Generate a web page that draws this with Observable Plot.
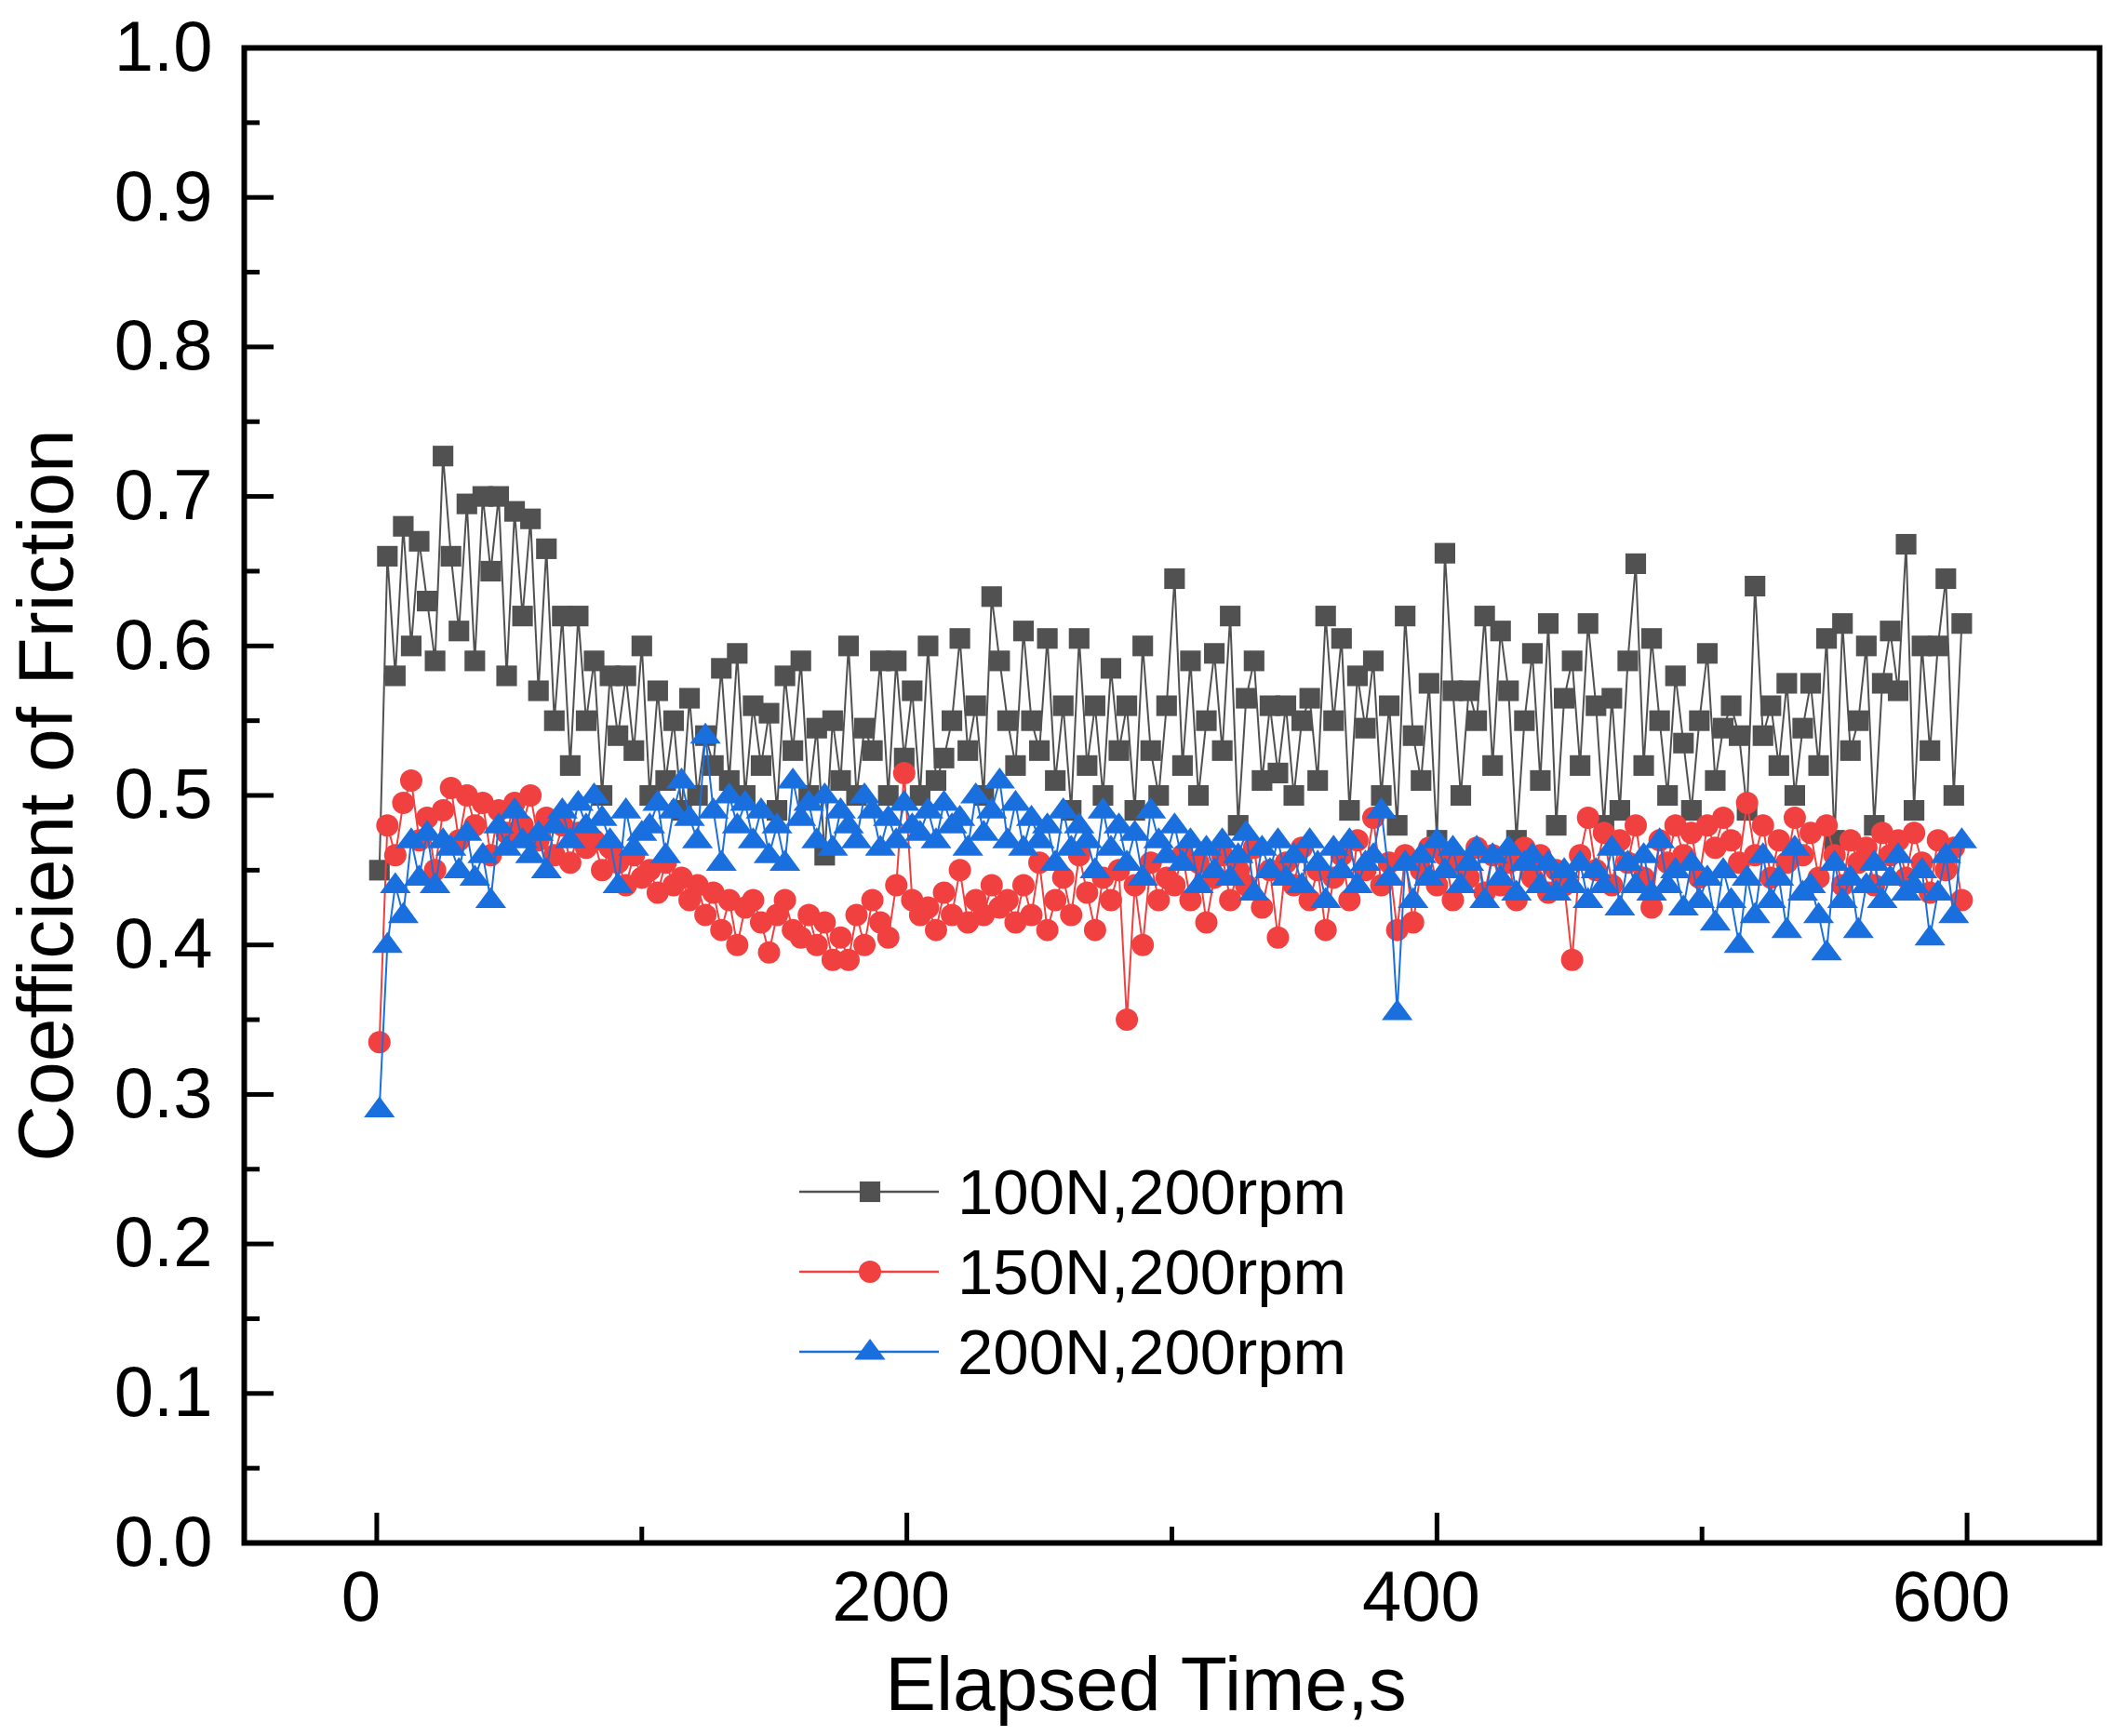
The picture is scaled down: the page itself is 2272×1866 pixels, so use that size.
<!DOCTYPE html>
<html>
<head>
<meta charset="utf-8">
<script src="https://cdn.jsdelivr.net/npm/d3@7"></script>
<script src="https://cdn.jsdelivr.net/npm/@observablehq/plot@0.6"></script>
<style>
  body { margin: 0; background: #fff; }
  #chart { position: relative; width: 2272px; height: 1866px; font-family: Arial, "Liberation Sans", sans-serif; }
  #legend { position: absolute; left: 859px; top: 1238px; }
  .row { display: flex; align-items: center; height: 86px; font-size: 69px; color: #000; }
  .row span { margin-left: 20px; }
</style>
</head>
<body>
<div id="chart"><div id="legend"></div></div>
<script>
/* Datos */
const seriesNames = ["100N,200rpm", "150N,200rpm", "200N,200rpm"]
const seriesColors = ["#515151", "#f04040", "#1a6fdf"]

// muestreo cada 3 s
const time = d3.range(1, 600, 3)

const cof100 = [
  0.45, 0.66, 0.58, 0.68, 0.60, 0.67, 0.63, 0.59, 0.727, 0.66,
  0.61, 0.695, 0.59, 0.70, 0.65, 0.70, 0.58, 0.69, 0.62, 0.685,
  0.57, 0.665, 0.55, 0.62, 0.52, 0.62, 0.55, 0.59, 0.50, 0.58,
  0.54, 0.58, 0.53, 0.60, 0.50, 0.57, 0.51, 0.55, 0.49, 0.565,
  0.50, 0.54, 0.52, 0.585, 0.51, 0.595, 0.50, 0.56, 0.52, 0.555,
  0.49, 0.58, 0.53, 0.59, 0.50, 0.545, 0.46, 0.55, 0.51, 0.60,
  0.50, 0.545, 0.53, 0.59, 0.50, 0.59, 0.525, 0.57, 0.50, 0.60,
  0.51, 0.525, 0.55, 0.605, 0.53, 0.56, 0.50, 0.633, 0.59, 0.55,
  0.52, 0.61, 0.55, 0.53, 0.605, 0.51, 0.56, 0.49, 0.605, 0.52,
  0.56, 0.50, 0.585, 0.53, 0.56, 0.49, 0.60, 0.53, 0.50, 0.56,
  0.645, 0.52, 0.59, 0.50, 0.55, 0.595, 0.53, 0.62, 0.48, 0.565,
  0.59, 0.51, 0.56, 0.515, 0.56, 0.50, 0.55, 0.565, 0.51, 0.62,
  0.55, 0.605, 0.49, 0.58, 0.545, 0.59, 0.50, 0.56, 0.48, 0.62,
  0.54, 0.51, 0.575, 0.47, 0.662, 0.57, 0.50, 0.57, 0.55, 0.62,
  0.52, 0.61, 0.57, 0.47, 0.55, 0.595, 0.51, 0.615, 0.48, 0.565,
  0.59, 0.52, 0.615, 0.56, 0.48, 0.565, 0.49, 0.59, 0.655, 0.52,
  0.605, 0.55, 0.50, 0.58, 0.535, 0.49, 0.55, 0.595, 0.51, 0.545,
  0.56, 0.54, 0.49, 0.64, 0.54, 0.56, 0.52, 0.575, 0.50, 0.545,
  0.575, 0.52, 0.605, 0.47, 0.615, 0.53, 0.55, 0.60, 0.48, 0.575,
  0.61, 0.57, 0.668, 0.49, 0.60, 0.53, 0.60, 0.645, 0.50, 0.615
]

const cof150 = [
  0.335, 0.48, 0.46, 0.495, 0.51, 0.47, 0.485, 0.45, 0.49, 0.505,
  0.47, 0.50, 0.48, 0.495, 0.46, 0.49, 0.475, 0.495, 0.48, 0.50,
  0.47, 0.485, 0.46, 0.48, 0.455, 0.475, 0.465, 0.47, 0.45, 0.465,
  0.455, 0.44, 0.46, 0.445, 0.45, 0.435, 0.455, 0.44, 0.445, 0.43,
  0.44, 0.42, 0.435, 0.41, 0.43, 0.40, 0.425, 0.43, 0.415, 0.395,
  0.42, 0.43, 0.41, 0.405, 0.42, 0.40, 0.415, 0.39, 0.405, 0.39,
  0.42, 0.40, 0.43, 0.415, 0.405, 0.44, 0.515, 0.43, 0.42, 0.425,
  0.41, 0.435, 0.42, 0.45, 0.415, 0.43, 0.42, 0.44, 0.425, 0.43,
  0.415, 0.44, 0.42, 0.455, 0.41, 0.43, 0.445, 0.42, 0.46, 0.435,
  0.41, 0.445, 0.43, 0.45, 0.35, 0.44, 0.40, 0.455, 0.43, 0.445,
  0.44, 0.46, 0.43, 0.455, 0.415, 0.445, 0.46, 0.43, 0.45, 0.44,
  0.465, 0.425, 0.45, 0.405, 0.455, 0.44, 0.465, 0.43, 0.45, 0.41,
  0.445, 0.46, 0.43, 0.47, 0.45, 0.485, 0.44, 0.455, 0.41, 0.46,
  0.415, 0.45, 0.465, 0.44, 0.46, 0.43, 0.455, 0.445, 0.465, 0.435,
  0.46, 0.44, 0.455, 0.43, 0.465, 0.445, 0.46, 0.435, 0.45, 0.44,
  0.39, 0.46, 0.485, 0.45, 0.475, 0.44, 0.47, 0.455, 0.48, 0.445,
  0.425, 0.47, 0.455, 0.48, 0.46, 0.475, 0.445, 0.48, 0.465, 0.485,
  0.47, 0.455, 0.495, 0.46, 0.48, 0.445, 0.47, 0.455, 0.485, 0.46,
  0.475, 0.445, 0.48, 0.46, 0.44, 0.47, 0.455, 0.465, 0.44, 0.475,
  0.46, 0.47, 0.445, 0.475, 0.455, 0.435, 0.47, 0.45, 0.465, 0.43
]

const cof200 = [
  0.29, 0.40, 0.44, 0.42, 0.47, 0.445, 0.475, 0.44, 0.47, 0.465,
  0.45, 0.475, 0.445, 0.46, 0.43, 0.48, 0.465, 0.49, 0.47, 0.46,
  0.475, 0.45, 0.48, 0.49, 0.47, 0.495, 0.48, 0.50, 0.485, 0.47,
  0.44, 0.49, 0.465, 0.475, 0.48, 0.495, 0.46, 0.49, 0.51, 0.485,
  0.47, 0.54, 0.49, 0.455, 0.50, 0.48, 0.495, 0.47, 0.49, 0.46,
  0.48, 0.455, 0.51, 0.485, 0.495, 0.47, 0.50, 0.465, 0.49, 0.48,
  0.47, 0.50, 0.49, 0.465, 0.485, 0.47, 0.495, 0.48, 0.475, 0.49,
  0.47, 0.495, 0.48, 0.485, 0.465, 0.50, 0.475, 0.49, 0.51, 0.47,
  0.495, 0.465, 0.485, 0.47, 0.48, 0.455, 0.49, 0.465, 0.48, 0.47,
  0.45, 0.49, 0.465, 0.48, 0.455, 0.475, 0.445, 0.49, 0.47, 0.46,
  0.48, 0.455, 0.47, 0.44, 0.465, 0.45, 0.47, 0.445, 0.46, 0.475,
  0.435, 0.465, 0.45, 0.47, 0.445, 0.46, 0.44, 0.47, 0.455, 0.43,
  0.465, 0.45, 0.47, 0.44, 0.455, 0.46, 0.49, 0.445, 0.355, 0.455,
  0.43, 0.46, 0.445, 0.47, 0.45, 0.465, 0.44, 0.455, 0.465, 0.43,
  0.46, 0.445, 0.465, 0.435, 0.455, 0.46, 0.44, 0.455, 0.435, 0.45,
  0.44, 0.455, 0.43, 0.45, 0.44, 0.465, 0.425, 0.455, 0.44, 0.46,
  0.435, 0.47, 0.44, 0.45, 0.425, 0.455, 0.43, 0.445, 0.415, 0.45,
  0.43, 0.40, 0.445, 0.42, 0.46, 0.43, 0.445, 0.41, 0.465, 0.435,
  0.44, 0.42, 0.395, 0.455, 0.43, 0.445, 0.41, 0.44, 0.455, 0.43,
  0.445, 0.46, 0.435, 0.44, 0.45, 0.405, 0.435, 0.46, 0.42, 0.47
]

const xMajor = [0, 200, 400, 600]
const xMinor = [100, 300, 500]
const yMajor = [0, 0.1, 0.2, 0.3, 0.4, 0.5, 0.6, 0.7, 0.8, 0.9, 1.0]
const yMinor = [0.05, 0.15, 0.25, 0.35, 0.45, 0.55, 0.65, 0.75, 0.85, 0.95]

/* Marcadores */
const flatTriangle = {
  draw(ctx, size) {
    const w = Math.sqrt(size) * 1.5
    const h = w * 0.68
    ctx.moveTo(0, -h * 0.62)
    ctx.lineTo(w / 2, h * 0.38)
    ctx.lineTo(-w / 2, h * 0.38)
    ctx.closePath()
  }
}
const symbols = [d3.symbolSquare, d3.symbolCircle, flatTriangle]
const radii = [12.5, 12, 12.5]

const table = [cof100, cof150, cof200].flatMap((vals, i) =>
  vals.map((v, j) => ({t: time[j], cof: v, serie: seriesNames[i]}))
)

const W = 2272, H = 1866
const mL = 262, mR = 16, mT = 51, mB = 208
const plotW = W - mL - mR, plotH = H - mT - mB

const seriesMarks = seriesNames.flatMap((name, i) => {
  const d = table.filter(r => r.serie === name)
  return [
    Plot.line(d, {x: "t", y: "cof", stroke: seriesColors[i], strokeWidth: 2}),
    Plot.dot(d, {x: "t", y: "cof", fill: seriesColors[i], stroke: "none",
      symbol: symbols[i], r: radii[i]})
  ]
})

const chart = Plot.plot({
  width: W,
  height: H,
  marginLeft: mL,
  marginRight: mR,
  marginTop: mT,
  marginBottom: mB,
  style: {fontFamily: 'Arial, "Liberation Sans", sans-serif', background: "white", color: "black"},
  x: {domain: [-50, 650], label: null},
  y: {domain: [0, 1], label: null},
  marks: [
    ...seriesMarks,
    Plot.tickX(xMajor, {x: d => d, stroke: "black", strokeWidth: 5, insetTop: plotH - 32}),
    Plot.tickX(xMinor, {x: d => d, stroke: "black", strokeWidth: 5, insetTop: plotH - 17}),
    Plot.tickY(yMajor, {y: d => d, stroke: "black", strokeWidth: 5, insetRight: plotW - 32}),
    Plot.tickY(yMinor, {y: d => d, stroke: "black", strokeWidth: 5, insetRight: plotW - 17}),
    Plot.frame({stroke: "black", strokeWidth: 6}),
    Plot.axisX(xMajor, {tickSize: 0, tickPadding: 30, fontSize: 76, dx: -17, label: null}),
    Plot.axisY(yMajor, {tickSize: 0, tickPadding: 34, fontSize: 76, label: null,
      tickFormat: d3.format(".1f")}),
    Plot.text(["Elapsed Time,s"], {text: d => d, frameAnchor: "bottom", dy: 153, dx: -28,
      fontSize: 82, textAnchor: "middle", lineAnchor: "middle", fill: "black"}),
    Plot.text(["Coefficient of Friction"], {text: d => d, frameAnchor: "left", dx: -211,
      rotate: -90, fontSize: 84, textAnchor: "middle", lineAnchor: "middle", fill: "black"})
  ]
})

d3.select('#chart').insert(() => chart, '#legend')

/* Leyenda */
const legend = d3.select('#legend')
seriesNames.forEach((name, i) => {
  const row = legend.append('div').attr('class', 'row')
  const sw = row.append('svg').attr('width', 150).attr('height', 86)
  sw.append('line')
    .attr('x1', 0).attr('x2', 150).attr('y1', 43).attr('y2', 43)
    .attr('stroke', seriesColors[i]).attr('stroke-width', 2.5)
  sw.append('path')
    .attr('d', d3.symbol(symbols[i], Math.PI * radii[i] * radii[i])())
    .attr('transform', 'translate(76,43)')
    .attr('fill', seriesColors[i])
  row.append('span').text(name)
})
</script>
</body>
</html>
